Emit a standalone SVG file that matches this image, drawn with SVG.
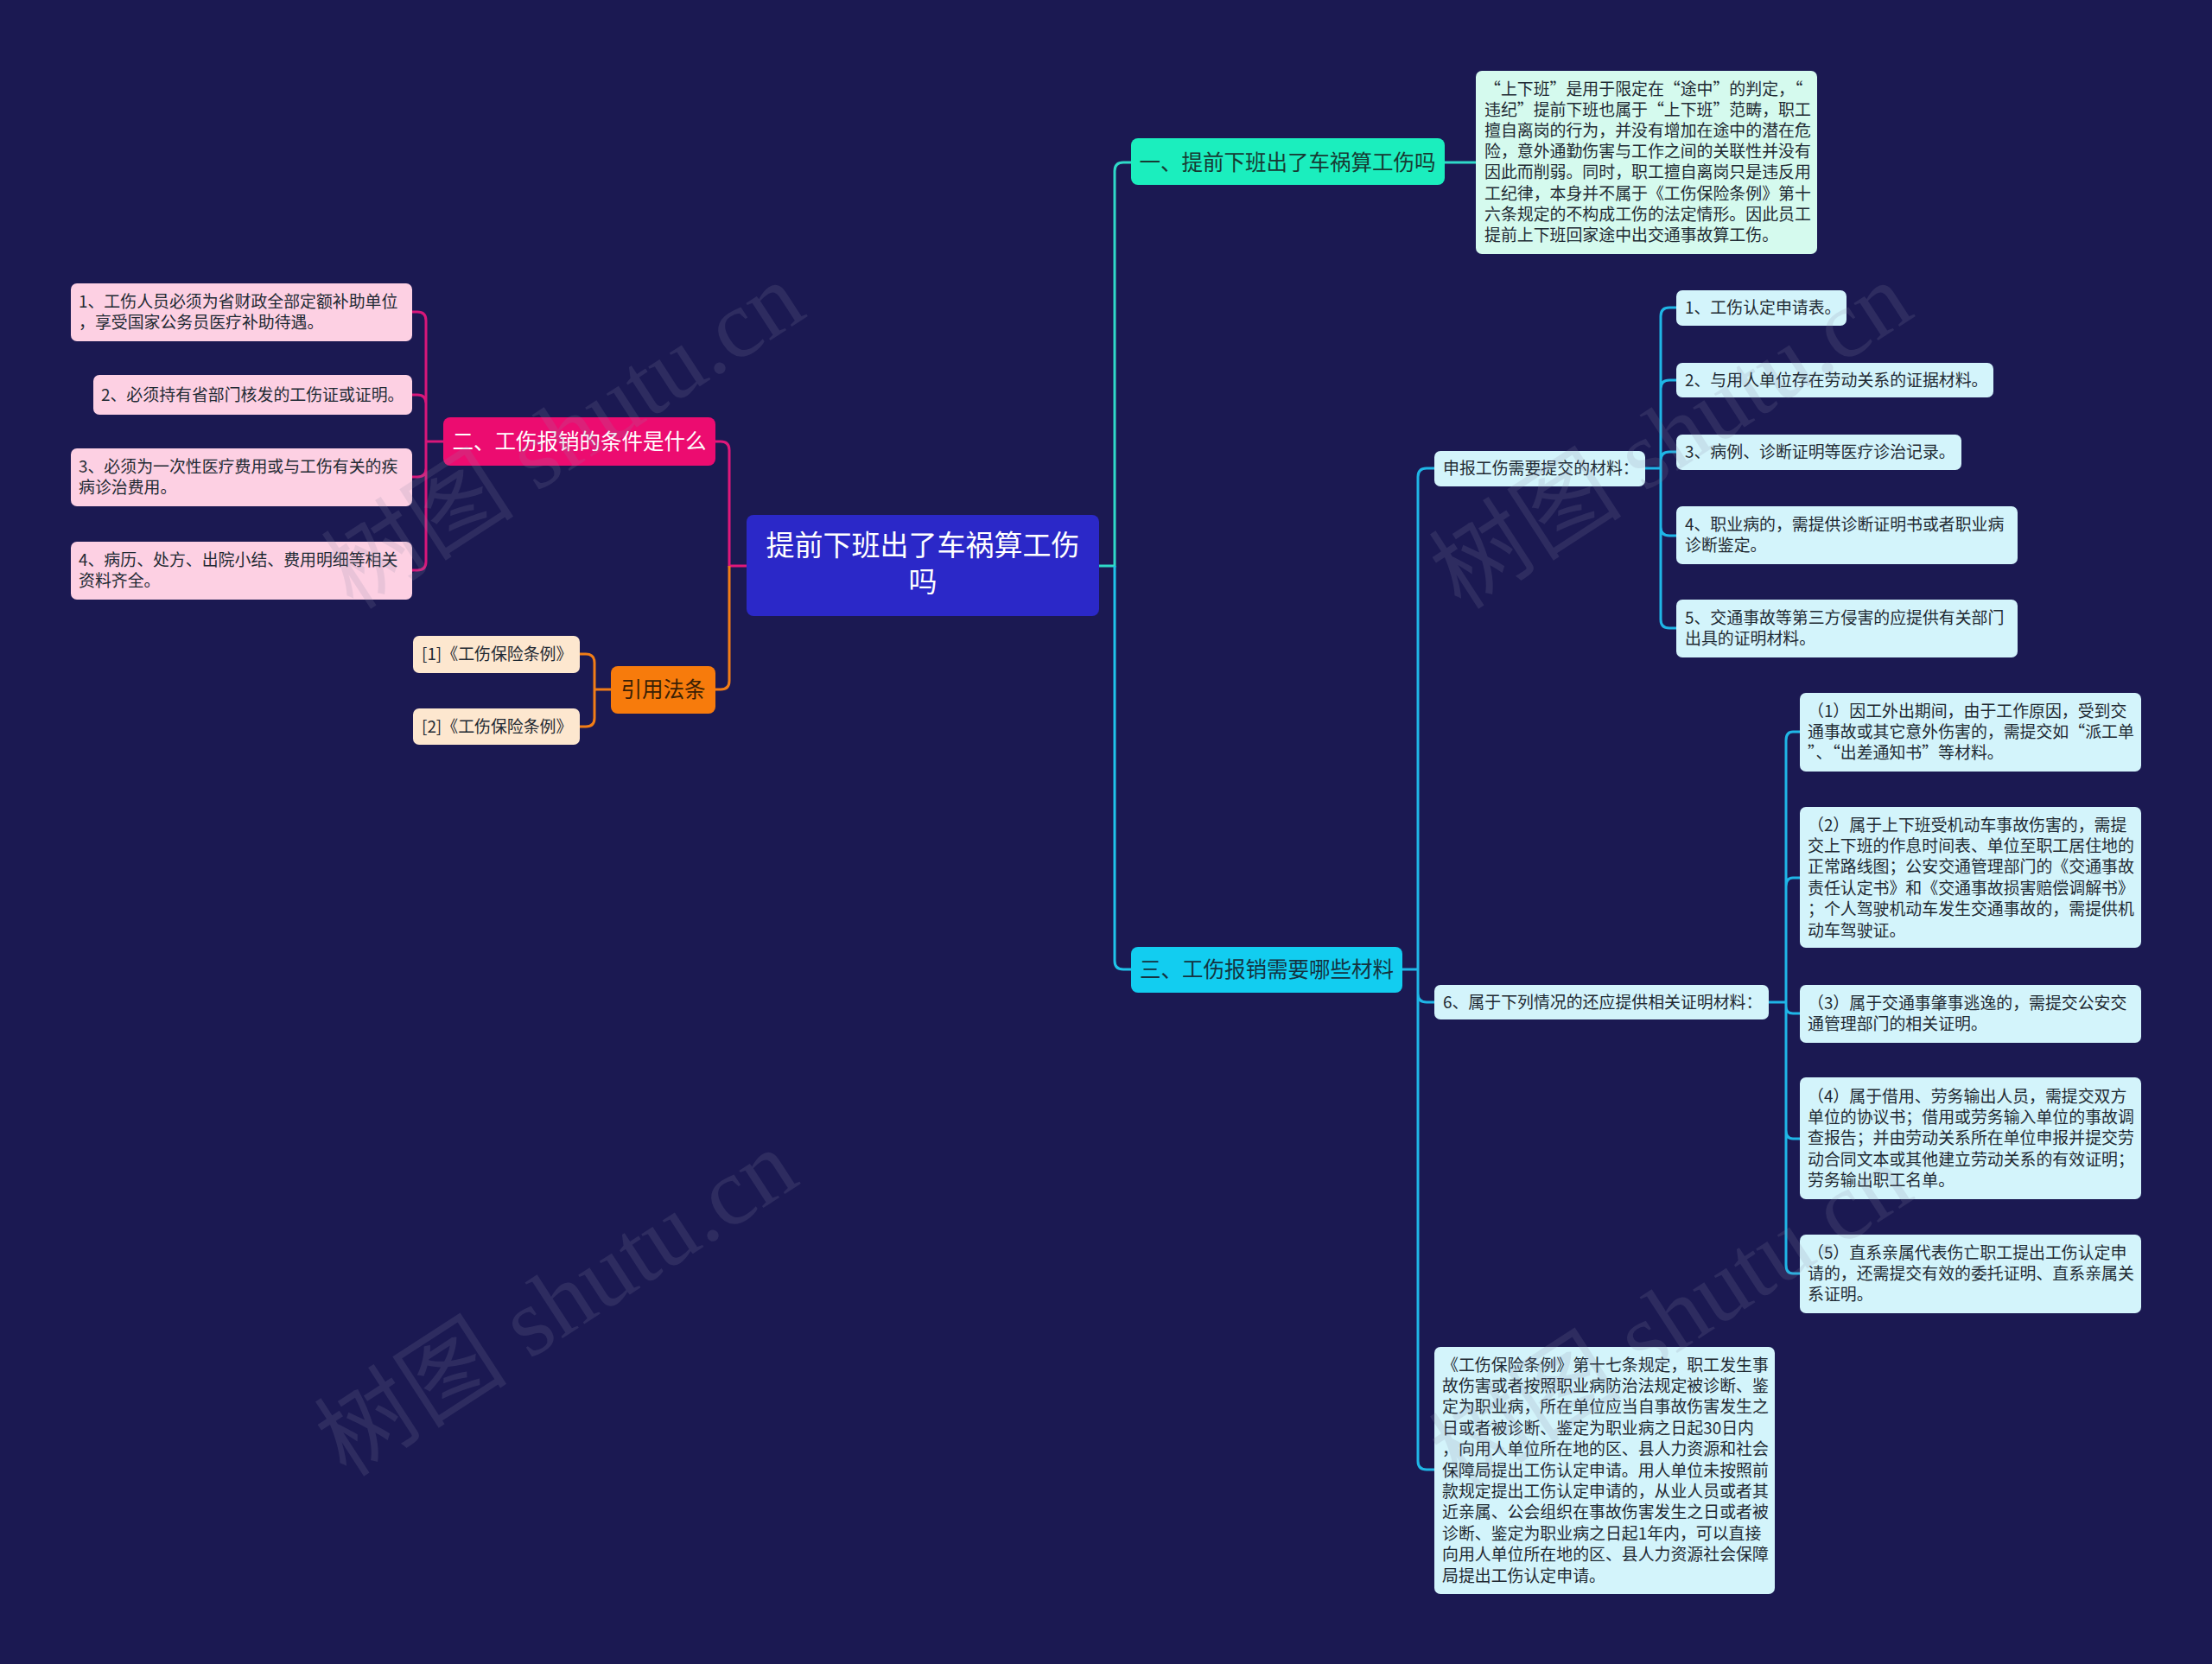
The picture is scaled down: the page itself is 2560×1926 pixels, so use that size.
<svg xmlns="http://www.w3.org/2000/svg" width="2560" height="1926" viewBox="0 0 2560 1926">
<style>
text{font-family:"Noto Sans CJK SC","Noto Sans",sans-serif;}
.t{font-size:18.9px;fill:#1f2a33;}
.b{font-size:24.5px;}
.c{fill:none;stroke-width:3;}
.wm{font-family:"Liberation Serif","Noto Sans CJK SC",serif;font-size:112px;fill:#8a8aa8;opacity:0.17;}
</style>
<rect x="0" y="0" width="2560" height="1926" fill="#1b1952"/>

<g id="connectors">
<path class="c" stroke="#e0187a" d="M828,511 H834 Q844,511 844,521 V655 H864"/>
<path class="c" stroke="#f27d16" d="M828,798 H834 Q844,798 844,788 V655"/>
<path class="c" stroke="#d8177a" d="M513,511 H493 M493,511 V371 Q493,361 483,361 H477 M493,511 V467 Q493,457 483,457 H477 M493,511 V542 Q493,552 483,552 H477 M493,511 V650 Q493,660 483,660 H477"/>
<path class="c" stroke="#f27d16" d="M707,798 H688 M688,798 V767 Q688,757 678,757 H671 M688,798 V831 Q688,841 678,841 H671"/>
<path class="c" stroke="#2fd9c8" d="M1272,655 H1290 V198 Q1290,188 1300,188 H1309"/>
<path class="c" stroke="#1fc4ea" d="M1290,655 V1112 Q1290,1122 1300,1122 H1309"/>
<path class="c" stroke="#2fd9c8" d="M1672,188 H1708"/>
<path class="c" stroke="#1fb6e6" d="M1623,1122 H1641 M1641,1122 V552 Q1641,542 1651,542 H1660 M1641,1122 V1150 Q1641,1160 1651,1160 H1660 M1641,1122 V1691 Q1641,1701 1651,1701 H1660"/>
<path class="c" stroke="#1fb6e6" d="M1904,542 H1922 M1922,542 V366 Q1922,356 1932,356 H1940 M1922,542 V450 Q1922,440 1932,440 H1940 M1922,542 V533 Q1922,523 1932,523 H1940 M1922,542 V610 Q1922,620 1932,620 H1940 M1922,542 V717 Q1922,727 1932,727 H1940"/>
<path class="c" stroke="#1fb6e6" d="M2047,1160 H2067 M2067,1160 V857 Q2067,847 2075,847 H2083 M2067,1160 V1026 Q2067,1016 2075,1016 H2083 M2067,1160 V1165 Q2067,1173 2075,1173 H2083 M2067,1160 V1308 Q2067,1318 2075,1318 H2083 M2067,1160 V1464 Q2067,1474 2075,1474 H2083"/>
</g>

<g id="central">
<rect x="864" y="596" width="408" height="117" rx="8" fill="#2b28c8"/>
<text x="1068" y="643" text-anchor="middle" font-size="33" fill="#ffffff">提前下班出了车祸算工伤</text>
<text x="1068" y="685" text-anchor="middle" font-size="33" fill="#ffffff">吗</text>
</g>

<g id="branch1">
<rect x="1309" y="160" width="363" height="54" rx="8" fill="#1beebe"/>
<text class="b" x="1490" y="196.5" text-anchor="middle" fill="#173a33">一、提前下班出了车祸算工伤吗</text>
</g>
<g id="desc1">
<rect x="1708" y="82" width="395" height="212" rx="7" fill="#d5faee"/>
<text class="t" x="1718" y="109.5">“上下班”是用于限定在“途中”的判定，“</text>
<text class="t" x="1718" y="133.7">违纪”提前下班也属于“上下班”范畴，职工</text>
<text class="t" x="1718" y="157.9">擅自离岗的行为，并没有增加在途中的潜在危</text>
<text class="t" x="1718" y="182.1">险，意外通勤伤害与工作之间的关联性并没有</text>
<text class="t" x="1718" y="206.3">因此而削弱。同时，职工擅自离岗只是违反用</text>
<text class="t" x="1718" y="230.5">工纪律，本身并不属于《工伤保险条例》第十</text>
<text class="t" x="1718" y="254.7">六条规定的不构成工伤的法定情形。因此员工</text>
<text class="t" x="1718" y="278.9">提前上下班回家途中出交通事故算工伤。</text>
</g>

<g id="branch2">
<rect x="513" y="483" width="315" height="56" rx="8" fill="#ec0c70"/>
<text class="b" x="670.5" y="519.5" text-anchor="middle" fill="#ffffff">二、工伤报销的条件是什么</text>
</g>
<g id="b2c1">
<rect x="82" y="328" width="395" height="67" rx="7" fill="#fdd0e3"/>
<text class="t" x="91" y="355.5">1、工伤人员必须为省财政全部定额补助单位</text>
<text class="t" x="91" y="380">，享受国家公务员医疗补助待遇。</text>
</g>
<g id="b2c2">
<rect x="108" y="434" width="369" height="46" rx="7" fill="#fdd0e3"/>
<text class="t" x="117" y="463.5">2、必须持有省部门核发的工伤证或证明。</text>
</g>
<g id="b2c3">
<rect x="82" y="519" width="395" height="67" rx="7" fill="#fdd0e3"/>
<text class="t" x="91" y="546.5">3、必须为一次性医疗费用或与工伤有关的疾</text>
<text class="t" x="91" y="571">病诊治费用。</text>
</g>
<g id="b2c4">
<rect x="82" y="627" width="395" height="67" rx="7" fill="#fdd0e3"/>
<text class="t" x="91" y="654.5">4、病历、处方、出院小结、费用明细等相关</text>
<text class="t" x="91" y="679">资料齐全。</text>
</g>

<g id="law">
<rect x="707" y="771" width="121" height="55" rx="8" fill="#f77b0c"/>
<text class="b" x="767.5" y="806.5" text-anchor="middle" fill="#3a1f05">引用法条</text>
</g>
<g id="law1">
<rect x="478" y="736" width="193" height="43" rx="7" fill="#fde7cf"/>
<text class="t" x="488" y="764">[1]《工伤保险条例》</text>
</g>
<g id="law2">
<rect x="478" y="820" width="193" height="42" rx="7" fill="#fde7cf"/>
<text class="t" x="488" y="848">[2]《工伤保险条例》</text>
</g>

<g id="branch3">
<rect x="1309" y="1096" width="314" height="53" rx="8" fill="#12cdf0"/>
<text class="b" x="1466" y="1130.5" text-anchor="middle" fill="#143340">三、工伤报销需要哪些材料</text>
</g>

<g id="apply">
<rect x="1660" y="522" width="244" height="41" rx="7" fill="#d3f4fb"/>
<text class="t" x="1670" y="549">申报工伤需要提交的材料：</text>
</g>
<g id="a1">
<rect x="1940" y="336" width="197" height="41" rx="7" fill="#d3f4fb"/>
<text class="t" x="1950" y="363">1、工伤认定申请表。</text>
</g>
<g id="a2">
<rect x="1940" y="420" width="367" height="40" rx="7" fill="#d3f4fb"/>
<text class="t" x="1950" y="446.5">2、与用人单位存在劳动关系的证据材料。</text>
</g>
<g id="a3">
<rect x="1940" y="503" width="330" height="41" rx="7" fill="#d3f4fb"/>
<text class="t" x="1950" y="530">3、病例、诊断证明等医疗诊治记录。</text>
</g>
<g id="a4">
<rect x="1940" y="586" width="395" height="67" rx="7" fill="#d3f4fb"/>
<text class="t" x="1950" y="613.5">4、职业病的，需提供诊断证明书或者职业病</text>
<text class="t" x="1950" y="638">诊断鉴定。</text>
</g>
<g id="a5">
<rect x="1940" y="694" width="395" height="67" rx="7" fill="#d3f4fb"/>
<text class="t" x="1950" y="721.5">5、交通事故等第三方侵害的应提供有关部门</text>
<text class="t" x="1950" y="746">出具的证明材料。</text>
</g>

<g id="six">
<rect x="1660" y="1140" width="387" height="40" rx="7" fill="#d3f4fb"/>
<text class="t" x="1670" y="1166.5">6、属于下列情况的还应提供相关证明材料：</text>
</g>
<g id="s1">
<rect x="2083" y="802" width="395" height="91" rx="7" fill="#d3f4fb"/>
<text class="t" x="2092" y="829.5">（1）因工外出期间，由于工作原因，受到交</text>
<text class="t" x="2092" y="853.9">通事故或其它意外伤害的，需提交如“派工单</text>
<text class="t" x="2092" y="878.3">”、“出差通知书”等材料。</text>
</g>
<g id="s2">
<rect x="2083" y="934" width="395" height="163" rx="7" fill="#d3f4fb"/>
<text class="t" x="2092" y="961.5">（2）属于上下班受机动车事故伤害的，需提</text>
<text class="t" x="2092" y="985.9">交上下班的作息时间表、单位至职工居住地的</text>
<text class="t" x="2092" y="1010.3">正常路线图；公安交通管理部门的《交通事故</text>
<text class="t" x="2092" y="1034.7">责任认定书》和《交通事故损害赔偿调解书》</text>
<text class="t" x="2092" y="1059.1">；个人驾驶机动车发生交通事故的，需提供机</text>
<text class="t" x="2092" y="1083.5">动车驾驶证。</text>
</g>
<g id="s3">
<rect x="2083" y="1140" width="395" height="67" rx="7" fill="#d3f4fb"/>
<text class="t" x="2092" y="1167.5">（3）属于交通事肇事逃逸的，需提交公安交</text>
<text class="t" x="2092" y="1191.9">通管理部门的相关证明。</text>
</g>
<g id="s4">
<rect x="2083" y="1247" width="395" height="141" rx="7" fill="#d3f4fb"/>
<text class="t" x="2092" y="1275.5">（4）属于借用、劳务输出人员，需提交双方</text>
<text class="t" x="2092" y="1299.9">单位的协议书；借用或劳务输入单位的事故调</text>
<text class="t" x="2092" y="1324.3">查报告；并由劳动关系所在单位申报并提交劳</text>
<text class="t" x="2092" y="1348.7">动合同文本或其他建立劳动关系的有效证明；</text>
<text class="t" x="2092" y="1373.1">劳务输出职工名单。</text>
</g>
<g id="s5">
<rect x="2083" y="1429" width="395" height="91" rx="7" fill="#d3f4fb"/>
<text class="t" x="2092" y="1456.5">（5）直系亲属代表伤亡职工提出工伤认定申</text>
<text class="t" x="2092" y="1480.9">请的，还需提交有效的委托证明、直系亲属关</text>
<text class="t" x="2092" y="1505.3">系证明。</text>
</g>

<g id="rule17">
<rect x="1660" y="1559" width="394" height="286" rx="7" fill="#d3f4fb"/>
<text class="t" x="1669" y="1586.5">《工伤保险条例》第十七条规定，职工发生事</text>
<text class="t" x="1669" y="1610.9">故伤害或者按照职业病防治法规定被诊断、鉴</text>
<text class="t" x="1669" y="1635.3">定为职业病，所在单位应当自事故伤害发生之</text>
<text class="t" x="1669" y="1659.7">日或者被诊断、鉴定为职业病之日起30日内</text>
<text class="t" x="1669" y="1684.1">，向用人单位所在地的区、县人力资源和社会</text>
<text class="t" x="1669" y="1708.5">保障局提出工伤认定申请。用人单位未按照前</text>
<text class="t" x="1669" y="1732.9">款规定提出工伤认定申请的，从业人员或者其</text>
<text class="t" x="1669" y="1757.3">近亲属、公会组织在事故伤害发生之日或者被</text>
<text class="t" x="1669" y="1781.7">诊断、鉴定为职业病之日起1年内，可以直接</text>
<text class="t" x="1669" y="1806.1">向用人单位所在地的区、县人力资源社会保障</text>
<text class="t" x="1669" y="1830.5">局提出工伤认定申请。</text>
</g>

<g id="watermarks">
<text class="wm" x="653" y="542" text-anchor="middle" transform="rotate(-33 653 506)">树图 shutu.cn</text>
<text class="wm" x="645" y="1546" text-anchor="middle" transform="rotate(-33 645 1510)">树图 shutu.cn</text>
<text class="wm" x="1935" y="542" text-anchor="middle" transform="rotate(-33 1935 506)">树图 shutu.cn</text>
<text class="wm" x="1935" y="1563" text-anchor="middle" transform="rotate(-33 1935 1527)">树图 shutu.cn</text>
</g>
</svg>
